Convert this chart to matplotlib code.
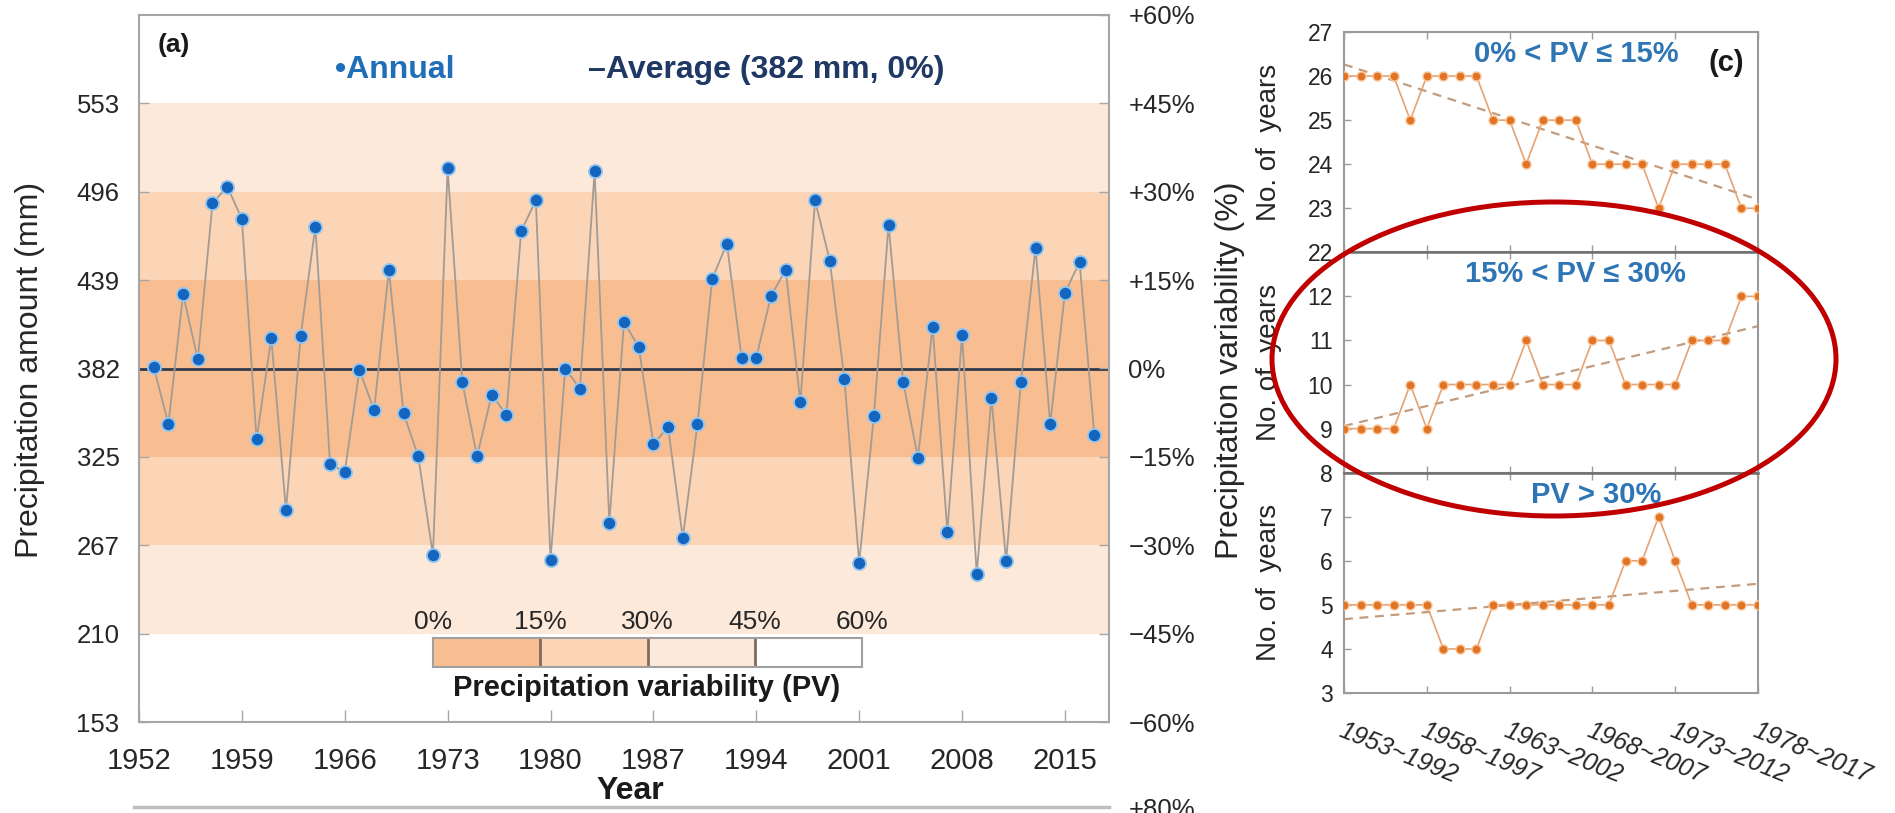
import numpy as np
import matplotlib
matplotlib.use("Agg")
import matplotlib.pyplot as plt
from matplotlib.patches import Ellipse

plt.rcParams['font.family'] = ['Liberation Sans', 'DejaVu Sans']

W, H = 1895, 813

# ---------------- data: annual precipitation (mm) ----------------
years = list(range(1953, 2018))
precip = [383, 346, 430, 388, 489, 500, 479, 336, 402, 290,
          403, 474, 320, 315, 381, 355, 446, 353, 325, 261,
          512, 373, 325, 365, 352, 471, 491, 258, 382, 369,
          510, 282, 412, 396, 333, 344, 272, 346, 440, 463,
          389, 389, 429, 446, 360, 491, 452, 375, 256, 351,
          475, 373, 324, 409, 276, 404, 249, 363, 257, 373,
          460, 346, 431, 451, 339]
average_mm = 382

left_labels = ['153', '210', '267', '325', '382', '439', '496', '553']
right_ticks = [-60, -45, -30, -15, 0, 15, 30, 45, 60]
right_labels = ['\u221260%', '\u221245%', '\u221230%', '\u221215%', '0%',
                '+15%', '+30%', '+45%', '+60%']
year_ticks = [1952, 1959, 1966, 1973, 1980, 1987, 1994, 2001, 2008, 2015]

# PV classes and their shading
pv_edges = [0, 15, 30, 45, 60]
pv_colors = ['#F8BE91', '#FBD5B6', '#FDE9DA', '#FFFFFF']
pv_labels = ['0%', '15%', '30%', '45%', '60%']

# ---------------- data: counts per 40-year moving window ----------------
window_labels = ['1953~1992', '1958~1997', '1963~2002',
                 '1968~2007', '1973~2012', '1978~2017']
count_low = [26, 26, 26, 26, 25, 26, 26, 26, 26, 25, 25, 24, 25,
             25, 25, 24, 24, 24, 24, 23, 24, 24, 24, 24, 23, 23]
count_mid = [9, 9, 9, 9, 10, 9, 10, 10, 10, 10, 10, 11, 10,
             10, 10, 11, 11, 10, 10, 10, 10, 11, 11, 11, 12, 12]
count_high = [5, 5, 5, 5, 5, 5, 4, 4, 4, 5, 5, 5, 5,
              5, 5, 5, 5, 6, 6, 7, 6, 5, 5, 5, 5, 5]
panel_titles = ['0% < PV \u2264 15%', '15% < PV \u2264 30%', 'PV > 30%']
panel_ylims = [(22, 27), (8, 13), (3, 8)]
title_xfrac = [0.56, 0.56, 0.61]


def rect(l, t, r, b):
    return [l / W, 1 - b / H, (r - l) / W, (b - t) / H]


def fx(x):
    return x / W


def fy(y):
    return 1 - y / H


fig = plt.figure(figsize=(W / 100, H / 100), dpi=100)
fig.patch.set_facecolor('white')

TXT = '#262626'
SPINE = '#A6A6A6'

# ---------------- panel (a) ----------------
ax = fig.add_axes(rect(139, 15, 1109, 722))
ax.set_xlim(1952, 2018)
ax.set_ylim(average_mm * 0.4, average_mm * 1.6)

for lo, hi, col in zip(pv_edges[:-2], pv_edges[1:-1], pv_colors[:3]):
    ax.axhspan(average_mm * (1 + lo / 100), average_mm * (1 + hi / 100),
               color=col, lw=0, zorder=0)
    ax.axhspan(average_mm * (1 - hi / 100), average_mm * (1 - lo / 100),
               color=col, lw=0, zorder=0)

ax.axhline(average_mm, color='#2E3B4B', lw=2.0, zorder=2)
ax.plot(years, precip, color='#A39B94', lw=1.3, zorder=3)
ax.plot(years, precip, ls='none', marker='o', ms=9.5, mfc='#1565BE',
        mec='#94C6EE', mew=1.3, zorder=4)

left_pos = [average_mm * (1 + p / 100) for p in right_ticks[:-1]]
ax.set_yticks(left_pos)
ax.set_yticklabels(left_labels)
ax.set_xticks(year_ticks)
ax.set_xticklabels([str(y) for y in year_ticks])
ax.tick_params(axis='y', direction='in', length=7, width=1, color=SPINE,
               labelsize=18.5, labelcolor=TXT, pad=14)
ax.tick_params(axis='x', direction='in', length=9, width=1, color=SPINE,
               labelsize=21, labelcolor=TXT, pad=18)
for s in ax.spines.values():
    s.set_color(SPINE)
    s.set_linewidth(1.5)

ax2 = ax.twinx()
ax2.set_ylim(-60, 60)
ax2.set_yticks(right_ticks)
ax2.set_yticklabels(right_labels)
ax2.tick_params(axis='y', direction='in', length=7, width=1, color=SPINE,
                labelsize=18.5, labelcolor=TXT, pad=14)
for s in ax2.spines.values():
    s.set_visible(False)

fig.text(fx(30), fy(370), 'Precipitation amount (mm)', rotation=90,
         ha='center', va='center', fontsize=23, color=TXT)
fig.text(fx(1230), fy(370), 'Precipitation variability (%)', rotation=90,
         ha='center', va='center', fontsize=23, color=TXT)
fig.text(fx(630), fy(791), 'Year', ha='center', va='center',
         fontsize=23, fontweight='bold', color='#1A1A1A')
fig.text(fx(174), fy(45), '(a)', ha='center', va='center',
         fontsize=19, fontweight='bold', color='#1A1A1A')
fig.text(fx(335), fy(70), '\u2022Annual', ha='left', va='center',
         fontsize=23, fontweight='bold', color='#1F6FB8')
fig.text(fx(588), fy(70), '\u2013Average (382 mm, 0%)', ha='left',
         va='center', fontsize=23, fontweight='bold', color='#1F3864')

# PV colour key
lax = fig.add_axes(rect(433, 638, 862, 667))
lax.set_xlim(pv_edges[0], pv_edges[-1])
lax.set_ylim(0, 1)
for lo, hi, col in zip(pv_edges[:-1], pv_edges[1:], pv_colors):
    lax.barh(0.5, hi - lo, left=lo, height=1, color=col, lw=0)
for e in pv_edges[1:-1]:
    lax.axvline(e, color='#7D6B5E', lw=2)
lax.set_yticks([])
lax.xaxis.tick_top()
lax.set_xticks(pv_edges)
lax.set_xticklabels(pv_labels)
lax.tick_params(axis='x', length=0, labelsize=19, labelcolor=TXT, pad=3)
for s in lax.spines.values():
    s.set_color('#A0A0A0')
    s.set_linewidth(1.5)
fig.text(fx(647), fy(688), 'Precipitation variability (PV)', ha='center',
         va='center', fontsize=21, fontweight='bold', color='#1A1A1A')

# top edge of the next panel below
bax = fig.add_axes(rect(134, 807, 1109, 1107))
bax.set_xlim(0, 1)
bax.set_ylim(0, 80)
bax.set_xticks([])
bax.yaxis.tick_right()
bax.set_yticks([80])
bax.set_yticklabels(['+80%'])
bax.tick_params(axis='y', length=0, labelsize=18.5, labelcolor=TXT, pad=14)
for k, s in bax.spines.items():
    s.set_visible(k == 'top')
bax.spines['top'].set_color('#BDBDBD')
bax.spines['top'].set_linewidth(2.5)
bax.patch.set_alpha(0)

# ---------------- panel (c) ----------------
c_top, c_bot = 32, 693
sub_h = (c_bot - c_top) / 3
idx = np.arange(len(count_low))
series = [count_low, count_mid, count_high]
tick_idx = np.arange(0, len(idx), 5)
for i, (vals, title, ylim) in enumerate(zip(series, panel_titles, panel_ylims)):
    t = c_top + i * sub_h
    cax = fig.add_axes(rect(1344, t, 1758, t + sub_h))
    cax.set_xlim(0, len(idx) - 1)
    cax.set_ylim(*ylim)
    vals = np.asarray(vals, dtype=float)
    slope, icpt = np.polyfit(idx, vals, 1)
    cax.plot(idx, slope * idx + icpt, color='#C29C7E', lw=1.6,
             dashes=(4, 3), zorder=2)
    cax.plot(idx, vals, color='#E6A273', lw=1.2, zorder=3)
    cax.plot(idx, vals, ls='none', marker='o', ms=6.5, mfc='#E07424',
             mec='#F9C79B', mew=1.0, zorder=4)
    yt = list(range(ylim[0], ylim[1] + (1 if i == 0 else 0)))
    cax.set_yticks(yt)
    cax.set_yticklabels([str(v) for v in yt])
    cax.set_xticks(tick_idx)
    if i == 2:
        cax.set_xticklabels(window_labels, rotation=-22, ha='left',
                            rotation_mode='anchor', fontstyle='italic')
    else:
        cax.set_xticklabels([])
    cax.tick_params(axis='both', direction='in', top=True, length=5,
                    width=1, color='#9A9A9A', labelcolor=TXT)
    cax.tick_params(axis='y', labelsize=16.5, pad=8)
    cax.tick_params(axis='x', labelsize=18, pad=18)
    for k, s in cax.spines.items():
        s.set_color('#9A9A9A')
        s.set_linewidth(1.5)
    if i > 0:
        cax.spines['top'].set_color('#6E6E6E')
        cax.spines['top'].set_linewidth(1.8)
    cax.text(title_xfrac[i], 0.9, title, transform=cax.transAxes,
             ha='center', va='center', fontsize=21, fontweight='bold',
             color='#2E75B6')
    fig.text(fx(1269), fy(t + sub_h / 2), 'No. of  years', rotation=90,
             ha='center', va='center', fontsize=20, color=TXT)

fig.text(fx(1726), fy(63), '(c)', ha='center', va='center',
         fontsize=21, fontweight='bold', color='#1A1A1A')

# highlight ring round the middle panel
ring = Ellipse((fx(1554), fy(359)), width=564 / W, height=314 / H,
               transform=fig.transFigure, fill=False, ec='#C00000', lw=3.6,
               zorder=10)
fig.add_artist(ring)

fig.savefig('out.png', dpi=100, facecolor='white')
